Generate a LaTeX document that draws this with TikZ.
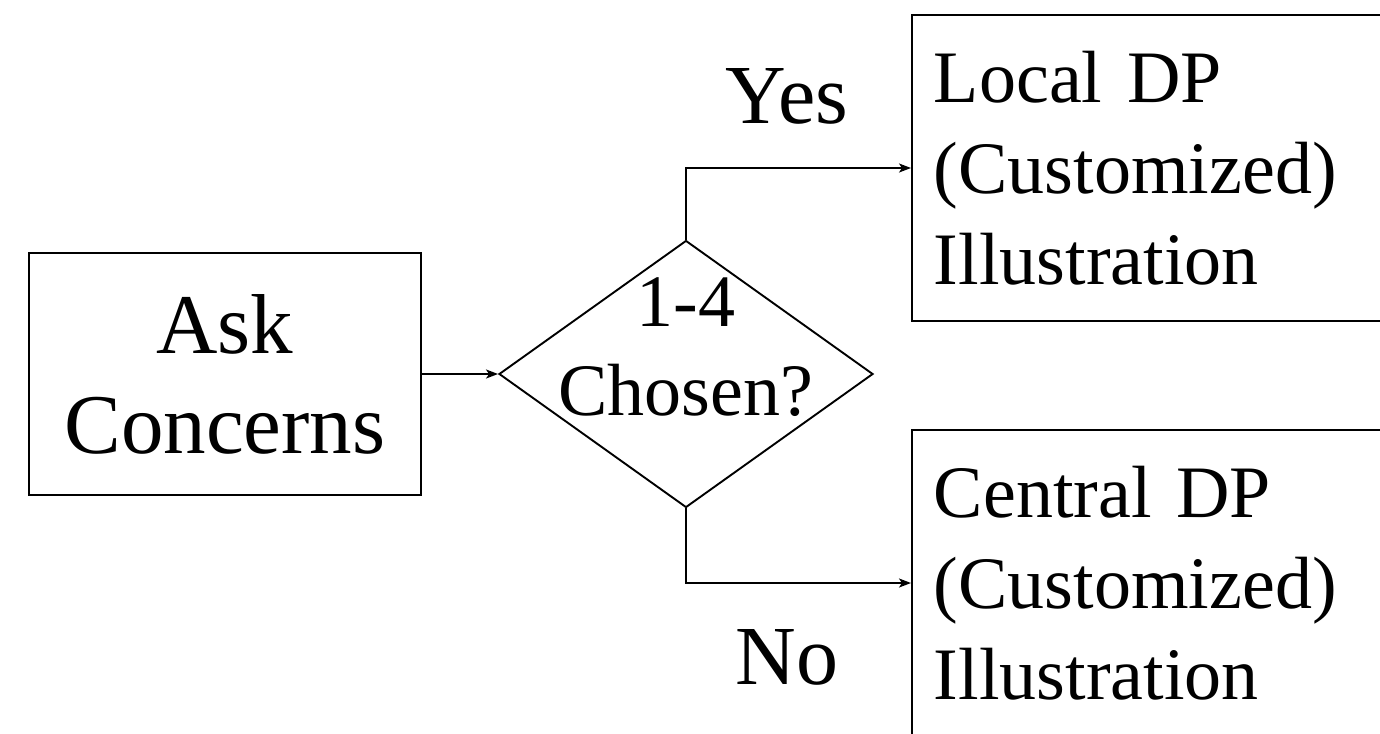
\documentclass[tikz,border=0pt]{standalone}
\usepackage{fontspec}
\setmainfont{Liberation Serif}
\usetikzlibrary{shapes.geometric,arrows.meta}
\protected\def\outfont{\fontsize{74}{91}\selectfont\fontdimen2\font=0.16em\relax}
\begin{document}
\begin{tikzpicture}[x=1pt,y=-1pt,
  line width=1.9pt,
  flow/.style={-{Stealth[length=12pt,width=9pt,inset=3pt]}},
  askbox/.style={draw,rectangle,minimum width=392pt,minimum height=242pt,inner sep=0pt,align=center,
    font=\fontsize{85}{100}\selectfont},
  outbox/.style={draw,rectangle,anchor=west,minimum height=306pt,text width=470pt,inner xsep=22pt,inner ysep=0pt,align=left,
    font=\outfont},
  decide/.style={draw,diamond,minimum width=374pt,minimum height=267pt,inner sep=0pt},
  dtxt/.style={align=center,inner sep=0pt,font=\fontsize{74}{89}\selectfont},
  branch/.style={inner sep=0pt,anchor=base,font=\fontsize{84}{100}\selectfont}
]
\useasboundingbox (0,0) rectangle (1380,733);
\clip (0,0) rectangle (1380,733);
\node[askbox] (ask) at (225,374) {Ask\\Concerns};
\node[decide] (dec) at (686,374) {};
\node[dtxt] (dectext) at (686,347) {1-4\\Chosen?};
\node[outbox] (local) at (911,168) {Local DP\\(Customized)\\Illustration};
\node[outbox] (central) at (911,583) {Central DP\\(Customized)\\Illustration};
\node[branch] (yes) at (787,124) {Yes};
\node[branch] (no) at (787,684) {No};
\draw[flow] (ask.east) -- (dec.west);
\draw[flow] (dec.north) |- (local.west);
\draw[flow] (dec.south) |- (central.west);
\end{tikzpicture}
\end{document}
